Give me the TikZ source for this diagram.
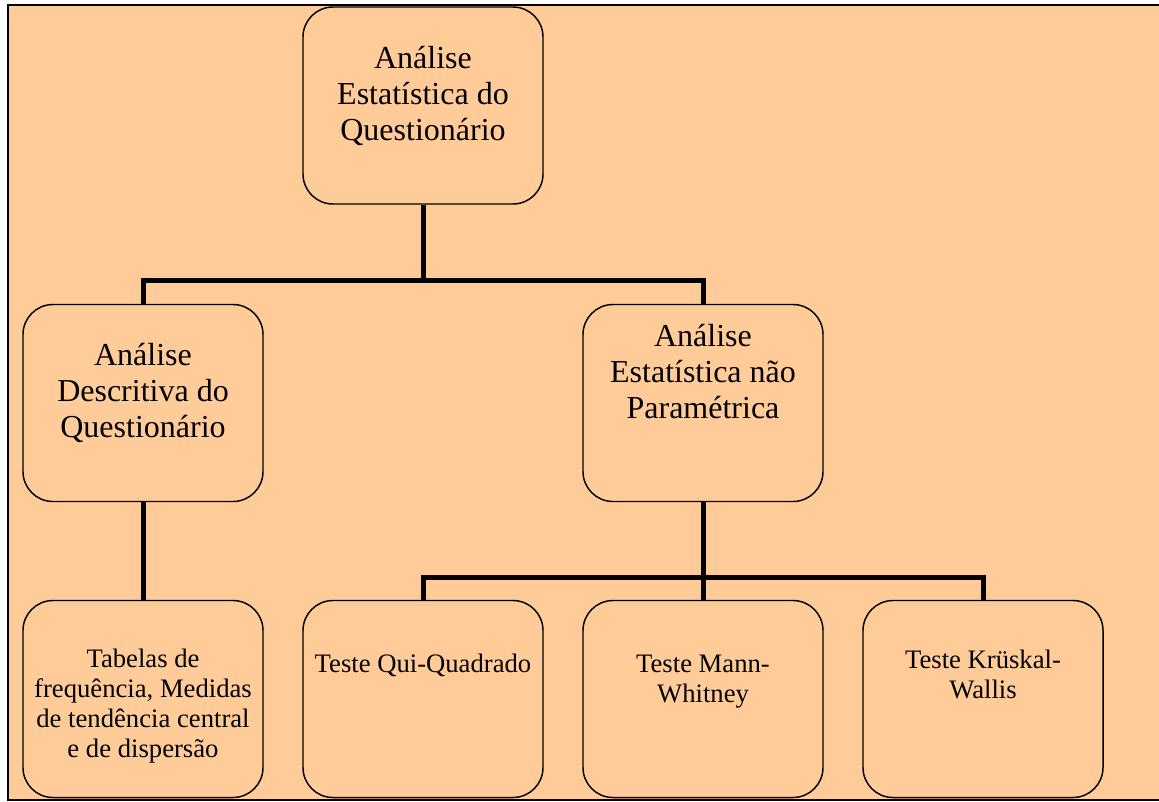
\documentclass[tikz,border=0pt]{standalone}
\usepackage{fontspec}
\setmainfont{Liberation Serif}
\begin{document}
\begin{tikzpicture}[x=0.75pt,y=-0.75pt,
  box/.style={draw=black, line width=1.1pt, rounded corners=22.5pt,
    minimum width=180pt, minimum height=147.75pt, inner sep=0pt},
  bigtext/.style={align=center, inner sep=0pt, font=\fontsize{24}{27}\selectfont},
  smalltext/.style={align=center, inner sep=0pt, font=\fontsize{20}{22.5}\selectfont},
  link/.style={line width=3.75pt, line join=miter}]
\definecolor{peach}{HTML}{FFCC99}
\useasboundingbox (0,0) rectangle (1159,801);
% sheet and its frame
\fill[peach] (8,5) rectangle (1160,800);
\draw[line width=1.5pt] (8,801) -- (8,5) -- (1160,5);
\draw[line width=1.5pt] (8,800) -- (1160,800);

% boxes
\node[box] (top)  at (423,105.5) {};
\node[box] (desc) at (143,403) {};
\node[box] (npar) at (703,403) {};
\node[box] (tab)  at (143,699) {};
\node[box] (qq)   at (423,699) {};
\node[box] (mw)   at (703,699) {};
\node[box] (kw)   at (983,699) {};

% texts
\node[bigtext] (ttop)  at (423,96)  {Análise\\Estatística do\\Questionário};
\node[bigtext] (tdesc) at (143,393) {Análise\\Descritiva do\\Questionário};
\node[bigtext] (tnpar) at (703,372) {Análise\\Estatística não\\Paramétrica};
\node[smalltext] (ttab) at (143,706) {Tabelas de\\frequência, Medidas\\de tendência central\\e de dispersão};
\node[smalltext] (tqq)  at (423,665) {Teste Qui-Quadrado};
\node[smalltext] (tmw)  at (703,682) {Teste Mann-\\Whitney};
\node[smalltext] (tkw)  at (983,674) {Teste Krüskal-\\Wallis};

% connectors
\coordinate (j1) at (423,280);
\coordinate (j2) at (703,577);
\draw[link] (top.south) -- (j1);
\draw[link] (desc.north) |- (j1) -| (npar.north);
\draw[link] (desc.south) -- (tab.north);
\draw[link] (npar.south) -- (mw.north);
\draw[link] (qq.north) |- (j2) -| (kw.north);
\end{tikzpicture}
\end{document}
